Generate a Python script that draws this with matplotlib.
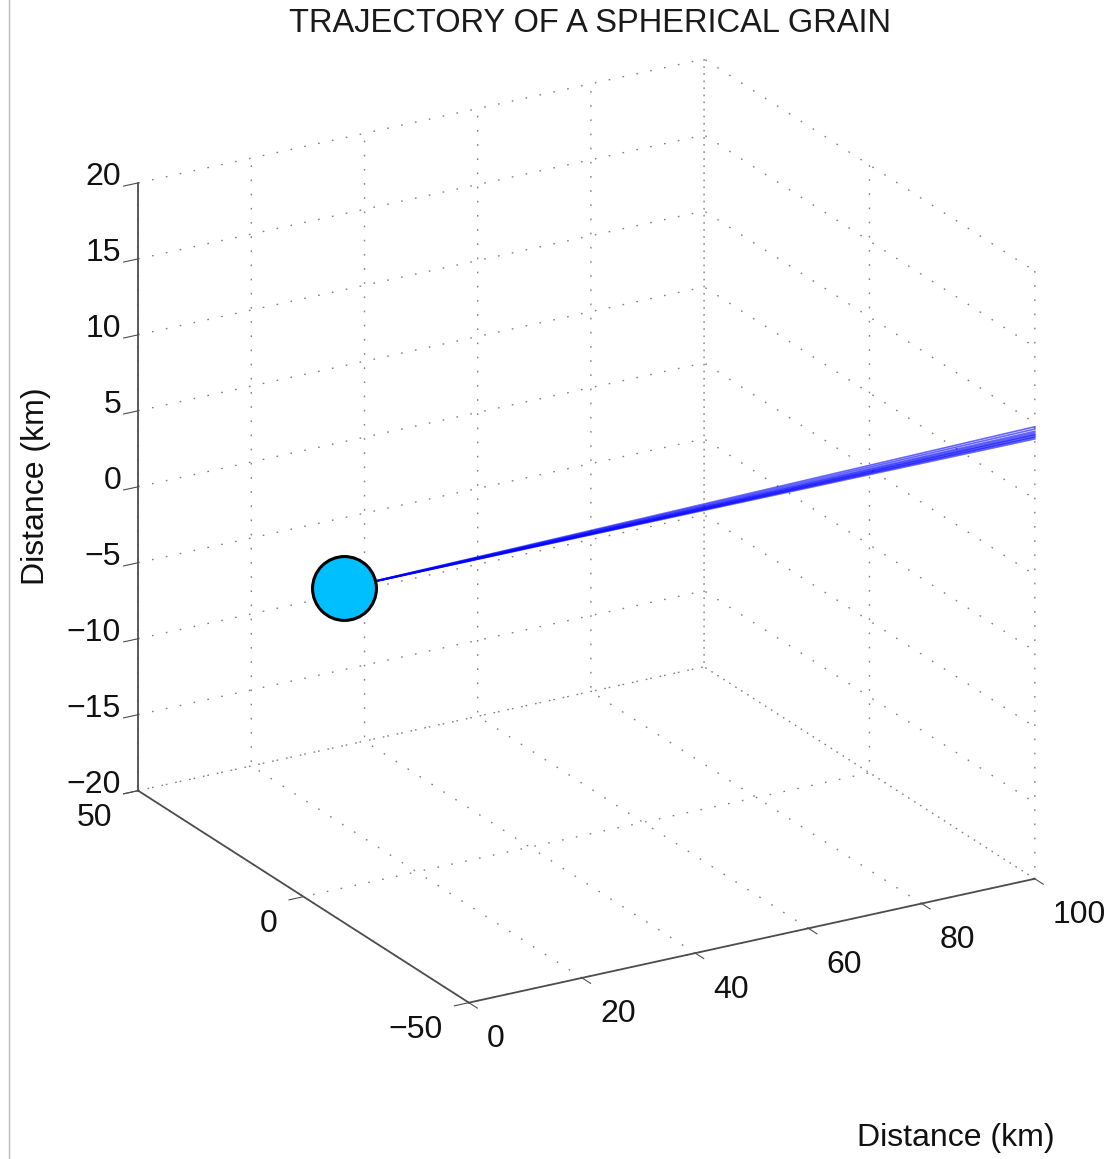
import numpy as np
import matplotlib
matplotlib.use("Agg")
import matplotlib.pyplot as plt
from matplotlib.lines import Line2D
from mpl_toolkits.mplot3d import proj3d

plt.rcParams['font.family'] = ['Liberation Sans', 'DejaVu Sans']
plt.rcParams['axes.unicode_minus'] = True

# ---------------- data ----------------
title = "TRAJECTORY OF A SPHERICAL GRAIN"
x_label = "Distance (km)"
z_label = "Distance (km)"
x_ticks = [0, 20, 40, 60, 80, 100]
y_ticks = [-50, 0, 50]
z_ticks = [-20, -15, -10, -5, 0, 5, 10, 15, 20]
x_tick_labels = ["0", "20", "40", "60", "80", "100"]
y_tick_labels = ["\u221250", "0", "50"]
z_tick_labels = ["\u221220", "\u221215", "\u221210", "\u22125", "0", "5", "10", "15", "20"]
x_lim = (0, 100)
y_lim = (-50, 50)
z_lim = (-20, 20)

grain_x = [0.0]
grain_y = [-12.2]
grain_z = [2.0]

traj_x = [0.0, 50.0, 100.0]
traj_y = [
    [-12.2, -31.1, -50.0],
    [-12.2, -31.1, -50.0],
    [-12.2, -31.1, -50.0],
    [-12.2, -31.1, -50.0],
    [-12.2, -31.1, -50.0],
    [-12.2, -31.1, -50.0],
    [-12.2, -31.1, -50.0],
    [-12.2, -31.1, -50.0],
    [-12.2, -31.1, -50.0],
]
traj_z = [
    [2.0, 5.48, 8.95],
    [2.0, 5.53, 9.05],
    [2.0, 5.55, 9.10],
    [2.0, 5.60, 9.20],
    [2.0, 5.63, 9.25],
    [2.0, 5.68, 9.35],
    [2.0, 5.73, 9.45],
    [2.0, 5.80, 9.60],
    [2.0, 5.88, 9.75],
]

# ---------------- figure ----------------
W, H = 1115, 1159
fig = plt.figure(figsize=(W / 100, H / 100), dpi=100)
S0 = 800
ax = fig.add_axes([100 / W, 100 / H, S0 / W, S0 / H], projection='3d',
                  proj_type='ortho', computed_zorder=False)
ax.view_init(elev=22.0, azim=-120.3)
ax.set_box_aspect((1, 1, 1))

ax.set_xlim(*x_lim)
ax.set_ylim(*y_lim)
ax.set_zlim(*z_lim)
ax.set_xticks(x_ticks)
ax.set_yticks(y_ticks)
ax.set_zticks(z_ticks)

for axis in (ax.xaxis, ax.yaxis, ax.zaxis):
    axis.set_pane_color((1, 1, 1, 0))
    axis.line.set_color('#4d4d4d')
    axis.line.set_linewidth(1.3)
    axis._axinfo['grid'].update({'color': (0.5, 0.5, 0.5, 1.0),
                                 'linewidth': 1.0,
                                 'linestyle': (0, (1.2, 9))})
    axis._axinfo['tick']['inward_factor'] = 0.32
    axis._axinfo['tick']['outward_factor'] = 0.0
    axis.set_tick_params(labelbottom=False, labeltop=False)
ax.grid(True)
ax.tick_params(axis='both', which='major', color='#4d4d4d', width=1.3)

for ys, zs in zip(traj_y, traj_z):
    ax.plot(traj_x, ys, zs, color=(0, 0, 1), lw=1.2, alpha=0.6, zorder=3)

ax.plot(grain_x, grain_y, grain_z, 'o', ms=46, mfc='#00BFFF', mec='black',
        mew=2.2, zorder=5)

# ---------------- fit the 3D box to the reference layout ----------------
def project(pt):
    M = ax.get_proj()
    px, py, _ = proj3d.proj_transform(pt[0], pt[1], pt[2], M)
    return ax.transData.transform((px, py))

fig.canvas.draw()
corners = [(0, 50, -20), (100, -50, -20), (0, -50, -20), (0, 50, 20), (100, 50, 20)]
targets_img = [(140, 790), (1032, 882), (465, 1003), (140, 180), (707, 59)]
pos = ax.get_position()
ox, oy = pos.x0 * W, pos.y0 * H
side = pos.width * W
U = []
for c in corners:
    d = project(c)
    U.append(((d[0] - ox) / side, (d[1] - oy) / side))
U = np.array(U)
T = np.array([(tx, H - ty) for tx, ty in targets_img], dtype=float)
Um, Tm = U.mean(0), T.mean(0)
S_new = ((U - Um) * (T - Tm)).sum() / ((U - Um) ** 2).sum()
o_new = Tm - S_new * Um
ax.set_position([o_new[0] / W, o_new[1] / H, S_new / W, S_new / H])
fig.canvas.draw()

# ---------------- tick labels (MATLAB-like offsets, anchored in data space) ----
fs = 23
lab_kw = dict(fontsize=fs, color='#111111', va='baseline')
for v, s in zip(x_ticks, x_tick_labels):
    d = project((v, -55.45, -22.17))
    fig.text(d[0] / W, d[1] / H, s, ha='left', **lab_kw)
for v, s in zip(y_ticks, y_tick_labels):
    d = project((-4.6, v, -21.92))
    fig.text(d[0] / W, d[1] / H, s, ha='right', **lab_kw)
for v, s in zip(z_ticks, z_tick_labels):
    d = project((0, 55.15, v - 0.85))
    fig.text(d[0] / W, d[1] / H, s, ha='right', **lab_kw)

# ---------------- texts ----------------
fig.text(590 / W, 1 - 23 / H, title, ha='center', va='center', fontsize=23.5,
         color='#1a1a1a')
fig.text(36 / W, 1 - 486 / H, z_label, ha='center', va='center', fontsize=23,
         rotation=90, color='#111111')
fig.text(956 / W, 1 - 1138 / H, x_label, ha='center', va='center', fontsize=23,
         color='#111111')

fig.add_artist(Line2D([8.5 / W, 8.5 / W], [0, 1], transform=fig.transFigure,
                      color='#bbbbbb', lw=1.0))

fig.savefig("out.png", dpi=100)
